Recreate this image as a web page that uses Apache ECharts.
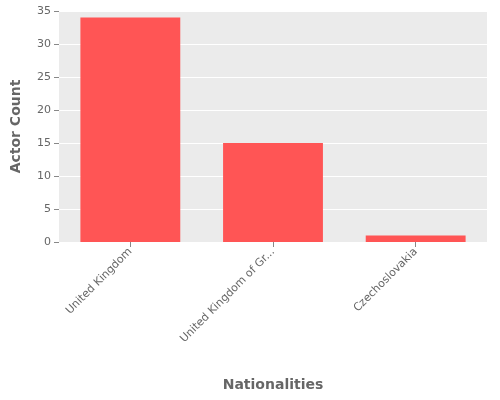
<!DOCTYPE html>
<html><head><meta charset="utf-8">
<script src="https://cdn.jsdelivr.net/npm/echarts@6/dist/echarts.min.js"></script>
<style>html,body{margin:0;padding:0;background:#fff}#c{width:500px;height:400px}</style>
</head><body><div id="c"></div>
<script>
const categories = ["United Kingdom", "United Kingdom of Great Britain and Northern Ireland", "Czechoslovakia"];
const actorCounts = [34, 15, 1];
const chart = echarts.init(document.getElementById('c'));
chart.setOption({
  animation: false,
  grid: {left: 59, right: 13, top: 11, bottom: 158, show: true, backgroundColor: '#EBEBEB', borderWidth: 0},
  xAxis: {
    type: 'category', data: categories,
    name: 'Nationalities', nameLocation: 'middle', nameGap: 136,
    nameTextStyle: {fontSize: 14, fontWeight: 'bold', color: '#666', fontFamily: 'DejaVu Sans'},
    axisLine: {show: false}, axisTick: {show: true, lineStyle: {color: '#888'}, alignWithLabel: true},
    axisLabel: {rotate: 45, color: '#666', fontSize: 11, fontFamily: 'DejaVu Sans', interval: 0,
      formatter: v => v.length > 25 ? v.slice(0, 20) + '...' : v}
  },
  yAxis: {
    type: 'value', min: 0, max: 35, interval: 5,
    name: 'Actor Count', nameLocation: 'middle', nameGap: 36,
    nameTextStyle: {fontSize: 14, fontWeight: 'bold', color: '#666', fontFamily: 'DejaVu Sans'},
    axisLine: {show: false}, axisTick: {show: true, lineStyle: {color: '#888'}},
    axisLabel: {color: '#666', fontSize: 11, fontFamily: 'DejaVu Sans'},
    splitLine: {lineStyle: {color: '#fff', width: 1}}
  },
  series: [{type: 'bar', data: actorCounts, barCategoryGap: '30%', itemStyle: {color: '#FF5555'}}]
});
</script></body></html>
